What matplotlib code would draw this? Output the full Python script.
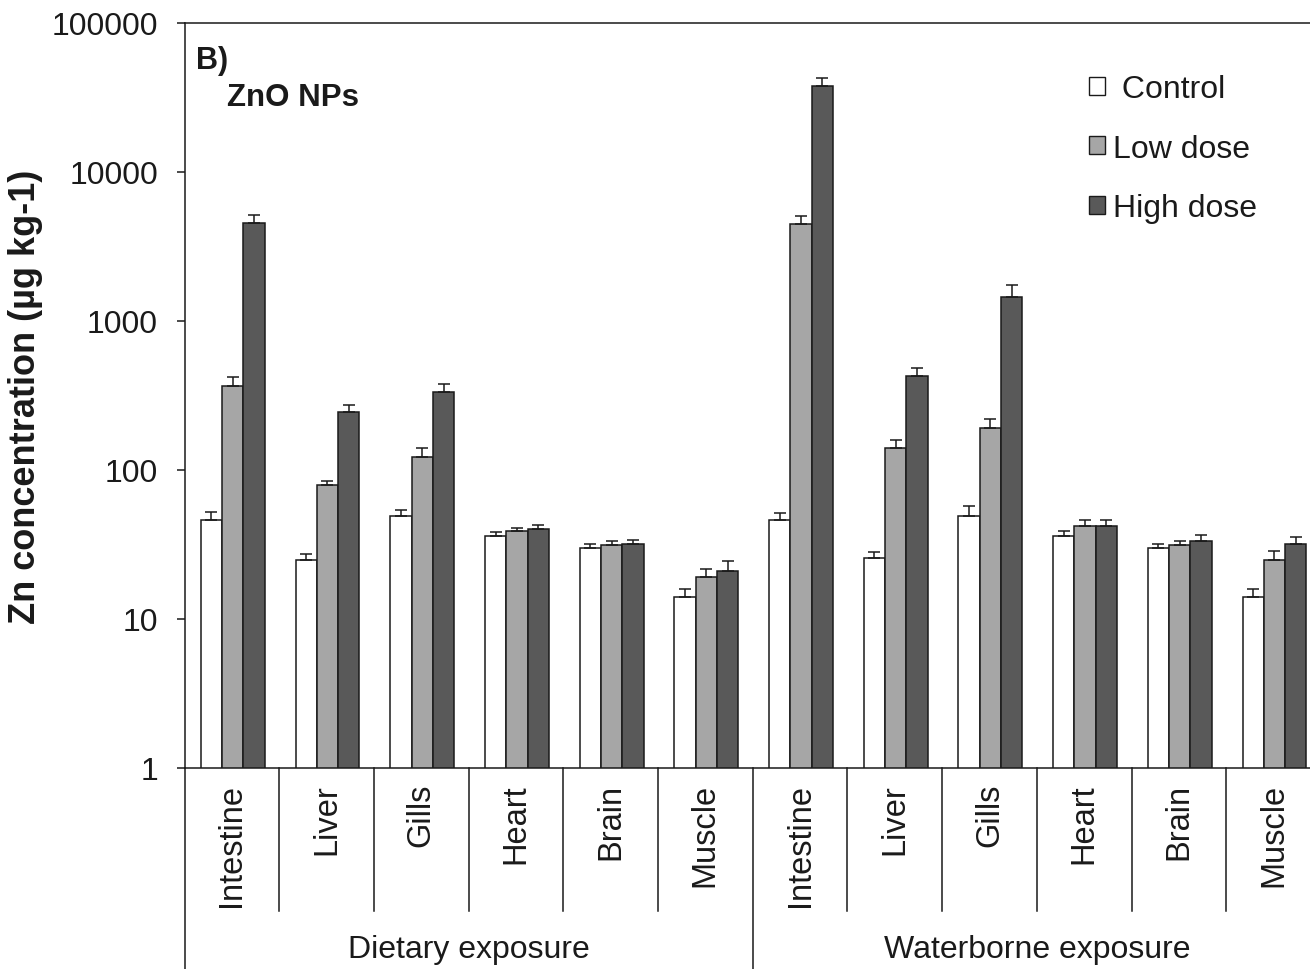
import matplotlib
matplotlib.use("Agg")
import matplotlib.pyplot as plt
import numpy as np
from matplotlib.patches import Patch
import matplotlib.transforms as mtransforms

plt.rcParams['font.family'] = ['Liberation Sans', 'DejaVu Sans']

organs = ["Intestine", "Liver", "Gills", "Heart", "Brain", "Muscle"]
exposures = ["Dietary exposure", "Waterborne exposure"]
series_names = [" Control", "Low dose", "High dose"]

# Dietary then waterborne, per organ
control = [46, 25, 49, 36, 30, 14,
           46, 25.5, 49, 36, 30, 14]
low_dose = [366, 79, 122, 39, 31.5, 19,
            4500, 140, 190, 42, 31.5, 25]
high_dose = [4550, 245, 335, 40, 32, 21,
             38000, 430, 1450, 42, 33.5, 32]

control_err = [6, 2.5, 5, 2.5, 2, 1.8,
               5.5, 2.5, 8, 3, 2, 2]
low_err = [55, 6, 18, 2, 2, 2.5,
           600, 18, 30, 4, 2, 3.5]
high_err = [600, 30, 45, 2.5, 2, 3.5,
            5000, 50, 300, 4, 3, 3.5]

yticks = [1, 10, 100, 1000, 10000, 100000]
ytick_labels = ["1", "10", "100", "1000", "10000", "100000"]

colors = ["#ffffff", "#a6a6a6", "#595959"]

W, H = 1310, 970
fig = plt.figure(figsize=(W / 100, H / 100), dpi=100)
left_px, right_px, top_px, bot_px = 184.5, 184.5 + 12 * 94.7, 24, 769
ax = fig.add_axes([left_px / W, 1 - bot_px / H, (right_px - left_px) / W, (bot_px - top_px) / H])

n = len(control)
x = np.arange(n) + 0.51
bw = 0.225
all_vals = [control, low_dose, high_dose]
all_errs = [control_err, low_err, high_err]
for k in range(3):
    xs = x + (k - 1) * bw
    ax.bar(xs, all_vals[k], width=bw, color=colors[k], edgecolor="#1a1a1a",
           linewidth=1.1, zorder=2)
    ax.errorbar(xs, all_vals[k], yerr=[np.zeros(n), all_errs[k]], fmt="none",
                ecolor="#1a1a1a", elinewidth=1.1, capsize=4, capthick=1.1, zorder=3)

ax.set_yscale("log")
ax.set_ylim(1, 100000)
ax.set_xlim(0, 12)
ax.set_yticks(yticks)
ax.set_yticklabels(ytick_labels)
ax.yaxis.set_minor_locator(matplotlib.ticker.NullLocator())
ax.set_xticks([])
ax.tick_params(axis="y", direction="out", length=6, width=1.1, pad=13,
               labelsize=23, colors="#1a1a1a")
for s in ax.spines.values():
    s.set_linewidth(1.1)
    s.set_color("#1a1a1a")

trans = mtransforms.blended_transform_factory(ax.transData, ax.transAxes)
short_y = (bot_px - 912) / (bot_px - top_px)
long_y = (bot_px - H - 5) / (bot_px - top_px)
for i in range(n + 1):
    yb = long_y if i % 6 == 0 else short_y
    ax.plot([i, i], [0, yb], transform=trans, color="#1a1a1a", lw=1.1, clip_on=False)

label_top = (bot_px - 784) / (bot_px - top_px)
for i in range(n):
    ax.text(i + 0.5, label_top, organs[i % 6], transform=trans, rotation=90,
            ha="center", va="top", fontsize=23.5, color="#1a1a1a")

exp_y = (bot_px - 950) / (bot_px - top_px)
for j, e in enumerate(exposures):
    ax.text(3 + 6 * j, exp_y, e, transform=trans, ha="center", va="center",
            fontsize=23, color="#1a1a1a")

fig.text(26 / W, 1 - 397 / H, "Zn concentration (µg kg-1)", rotation=90,
         ha="center", va="center", fontsize=26, fontweight="bold", color="#1a1a1a")

fig.text(196 / W, 1 - 61 / H, "B)", ha="left", va="center", fontsize=22,
         fontweight="bold", color="#1a1a1a")
fig.text(227 / W, 1 - 98 / H, "ZnO NPs", ha="left", va="center", fontsize=22.5,
         fontweight="bold", color="#1a1a1a")

handles = [Patch(facecolor=colors[k], edgecolor="#1a1a1a", linewidth=1.0) for k in range(3)]
leg = ax.legend(handles, series_names, loc="upper left",
                bbox_to_anchor=(1089 / W, 1 - 75 / H), bbox_transform=fig.transFigure,
                frameon=False, fontsize=23, handlelength=0.5, handleheight=0.5,
                handletextpad=0.25, labelspacing=0.93, borderpad=0, borderaxespad=0)
for t in leg.get_texts():
    t.set_color("#1a1a1a")

fig.savefig("out.png", dpi=100)
